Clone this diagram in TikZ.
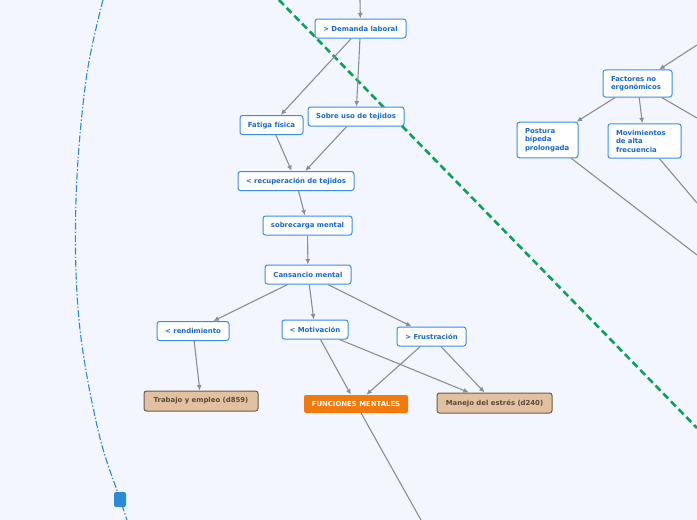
\documentclass[tikz,border=0pt]{standalone}
\usepackage{fontspec}
\setmainfont{DejaVu Sans}
\usetikzlibrary{arrows.meta}
\usepackage{xcolor}
\definecolor{fondo}{HTML}{F3F6FE}
\definecolor{tlinea}{HTML}{3A8CEB}
\definecolor{ttexto}{HTML}{1768D2}
\definecolor{flecha}{HTML}{8B8D99}
\definecolor{naranja}{HTML}{F07A0E}
\definecolor{cafe}{HTML}{E2C1A1}
\definecolor{cafelinea}{HTML}{6B5B4C}
\definecolor{cafetexto}{HTML}{5A4A3B}
\definecolor{verde}{HTML}{0AA356}
\definecolor{azulrel}{HTML}{2B8AD6}

\begin{document}
\begin{tikzpicture}[x=1pt, y=-1pt,
		every node/.style={font=\fontsize{6.9}{8.5}\selectfont\bfseries},
		tema/.style={draw=tlinea, fill=white, text=ttexto, line width=1pt, rounded corners=2.5pt, inner xsep=4pt, inner ysep=3pt, minimum height=19pt},
		multi/.style={tema, align=left, inner xsep=8pt, inner ysep=6pt},
		cafebox/.style={draw=cafelinea, fill=cafe, text=cafetexto, line width=1pt, rounded corners=2.5pt, inner xsep=4pt, minimum height=20pt},
		central/.style={fill=naranja, text=white, rounded corners=2pt, inner xsep=4pt, minimum height=18pt},
		enlace/.style={draw=flecha, line width=1.1pt, -{Latex[length=5.5pt,width=5pt]}},
		libre/.style={draw=flecha, line width=1.1pt}]
				\useasboundingbox (0,0) rectangle (697,520);
				\fill[fondo] (0,0) rectangle (697,520);
				
				% limites
				\draw[verde, line width=2.6pt, dash pattern=on 7pt off 4pt] (279,0) -- (697,428);
				\draw[azulrel, line width=1.1pt, dash pattern=on 7pt off 2pt on 1.5pt off 2pt] plot[smooth, tension=0.6] coordinates {(103,0) (86,80) (76,200) (79,320) (98,430) (120,499) (127,520)};
				\fill[azulrel, rounded corners=2pt] (114,492) rectangle (126,507);
				
				\node[tema, minimum width=91pt] (dem) at (360.5,28.5) {> Demanda laboral};
				\node[tema, minimum width=63pt] (fat) at (271.5,125) {Fatiga física};
				\node[tema, minimum width=96pt] (sob) at (356,116.5) {Sobre uso de tejidos};
				\node[tema, minimum width=116pt] (rec) at (296,181) {< recuperación de tejidos};
				\node[tema, minimum width=89pt] (sobm) at (307.5,225.5) {sobrecarga mental};
				\node[tema, minimum width=86pt] (can) at (308,274.5) {Cansancio mental};
				\node[tema, minimum width=72pt] (ren) at (193,331) {< rendimiento};
				\node[tema, minimum width=66pt] (mot) at (315,329.5) {< Motivación};
				\node[tema, minimum width=69pt] (fru) at (431.5,336.5) {> Frustración};
				\node[cafebox, minimum width=114pt] (trab) at (201,401) {Trabajo y empleo (d859)};
				\node[central, minimum width=104pt] (fun) at (356,404) {FUNCIONES MENTALES};
				\node[cafebox, minimum width=115pt] (mane) at (494.5,403) {Manejo del estrés (d240)};
				
				\node[multi, text width=53pt] (fac) at (637.5,83.5) {Factores no\\ergonómicos};
				\node[multi, text width=45pt] (pos) at (547.5,140) {Postura\\bípeda\\prolongada};
				\node[multi, text width=57pt] (mov) at (644.5,141) {Movimientos\\de alta\\frecuencia};
				
				\coordinate (arriba) at (360,0);
				\coordinate (abajo) at (421,520);
				\coordinate (dere1) at (697,45);
				\coordinate (dere2) at (697,118);
				\coordinate (dere3) at (697,255);
				\coordinate (dere4) at (697,203);
				
				\draw[enlace] (arriba) -- (dem);
				\draw[enlace] (dem) -- (fat);
				\draw[enlace] (dem) -- (sob);
				\draw[enlace] (fat) -- (rec);
				\draw[enlace] (sob) -- (rec);
				\draw[enlace] (rec) -- (sobm);
				\draw[enlace] (sobm) -- (can);
				\draw[enlace] (can) -- (ren);
				\draw[enlace] (can) -- (mot);
				\draw[enlace] (can) -- (fru);
				\draw[enlace] (ren) -- (trab);
				\draw[enlace] (mot) -- (fun);
				\draw[enlace] (mot) -- (mane);
				\draw[enlace] (fru) -- (fun);
				\draw[enlace] (fru) -- (mane);
				\draw[libre] (fun) -- (abajo);
				
				\draw[enlace] (dere1) -- (fac);
				\draw[enlace] (fac) -- (pos);
				\draw[enlace] (fac) -- (mov);
				\draw[libre] (fac) -- (dere2);
				\draw[libre] (pos) -- (dere3);
				\draw[libre] (mov) -- (dere4);
\end{tikzpicture}
\end{document}
